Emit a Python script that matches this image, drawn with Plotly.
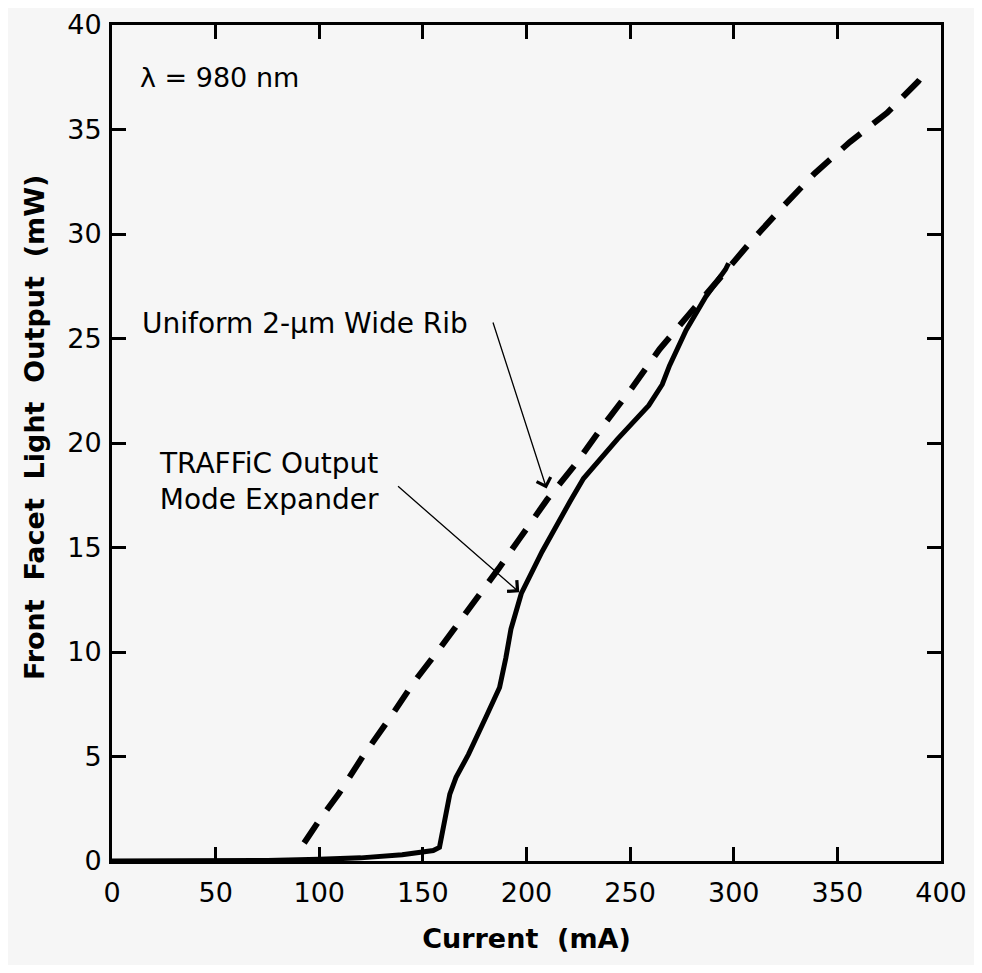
import plotly.graph_objects as go

# TRAFFiC output mode expander (solid)
traffic_x = [0, 50, 75, 100, 120, 140, 150, 155, 158, 160.5, 163, 166, 172, 180.5, 187, 190,
             192.5, 197.5, 207.5, 221, 227.5, 244, 259, 265.5, 269, 277, 286.5, 296, 297.5]
traffic_y = [0, 0, 0.02, 0.08, 0.15, 0.3, 0.42, 0.5, 0.65, 1.95, 3.2, 4.0, 5.1, 6.9, 8.3, 9.7,
             11.1, 12.8, 14.8, 17.2, 18.3, 20.2, 21.8, 22.8, 23.7, 25.4, 27.0, 28.3, 28.6]

# Uniform 2-um wide rib (dashed)
rib_x = [92.7, 100, 109.3, 121, 134.2, 146, 158.4, 175, 186.6, 196.5, 210, 223.4, 236, 250.6,
         264.3, 278.8, 293.4, 308, 322.7, 339, 356, 374, 389, 393]
rib_y = [0.86, 1.95, 3.2, 5.0, 6.86, 8.6, 10.2, 12.4, 14.0, 15.4, 17.3, 18.95, 20.7, 22.6,
         24.5, 26.2, 27.95, 29.6, 31.2, 32.9, 34.4, 35.8, 37.3, 37.8]

x_ticks = [0, 50, 100, 150, 200, 250, 300, 350, 400]
y_ticks = [0, 5, 10, 15, 20, 25, 30, 35, 40]

FONT = "DejaVu Sans, Liberation Sans, Arial, sans-serif"
BG = "#f6f6f6"
FS = 27

fig = go.Figure()
fig.add_trace(go.Scatter(x=traffic_x, y=traffic_y, mode="lines",
                         line=dict(color="black", width=5), showlegend=False))
fig.add_trace(go.Scatter(x=rib_x, y=rib_y, mode="lines",
                         line=dict(color="black", width=6, dash="24px,16px"), showlegend=False))

axis_common = dict(showline=True, linecolor="black", linewidth=3, mirror="ticks",
                   ticks="inside", ticklen=14, tickwidth=3, tickcolor="black",
                   showgrid=False, zeroline=False, ticklabeloverflow="allow",
                   automargin=False,
                   tickfont=dict(family=FONT, size=FS, color="black"))

fig.update_xaxes(range=[0, 400], tickvals=x_ticks, ticktext=[str(v) for v in x_ticks],
                 ticklabelstandoff=6,
                 title=dict(text="<b>Current  (mA)</b>", font=dict(family=FONT, size=FS, color="black"),
                            standoff=22),
                 **axis_common)
fig.update_yaxes(range=[0, 40], tickvals=y_ticks, ticktext=[str(v) for v in y_ticks],
                 ticklabelstandoff=2, **axis_common)

# page body has an 8px margin; size the figure so the plot frame lands where the reference has it
W, H = 966, 957
L, T = 104, 17
R, B = 33, 104
pw, ph = W - L - R, H - T - B

annos = [
    dict(x=12.6, y=37.5, xref="x", yref="y", text="λ = 980 nm", showarrow=False,
         xanchor="left", yanchor="middle", font=dict(family=FONT, size=FS, color="black")),
    dict(x=13.5, y=25.7, xref="x", yref="y", text="Uniform 2-μm Wide Rib", showarrow=False,
         xanchor="left", yanchor="middle", font=dict(family=FONT, size=28, color="black")),
    dict(x=75.8, y=18.14, xref="x", yref="y", text="TRAFFiC Output<br>Mode Expander",
         showarrow=False, xanchor="center", yanchor="middle", align="center",
         font=dict(family=FONT, size=28, color="black")),
    dict(x=209.7, y=17.82, xref="x", yref="y", ax=183.6, ay=25.84, axref="x", ayref="y",
         text="", showarrow=True, arrowhead=4, arrowsize=2.2, arrowwidth=1.3, arrowcolor="black"),
    dict(x=196.5, y=12.86, xref="x", yref="y", ax=137.3, ay=17.99, axref="x", ayref="y",
         text="", showarrow=True, arrowhead=4, arrowsize=2.2, arrowwidth=1.3, arrowcolor="black"),
    dict(x=(26 - L) / pw, y=(H - B - 420) / ph, xref="paper", yref="paper",
         text="<b>Front  Facet  Light  Output  (mW)</b>",
         showarrow=False, textangle=-90, xanchor="center", yanchor="middle",
         font=dict(family=FONT, size=FS, color="black")),
]

fig.update_layout(width=W, height=H, margin=dict(l=L, r=R, t=T, b=B, autoexpand=False),
                  paper_bgcolor=BG, plot_bgcolor=BG, annotations=annos,
                  font=dict(family=FONT, color="black"))

fig.write_html("out.html")
